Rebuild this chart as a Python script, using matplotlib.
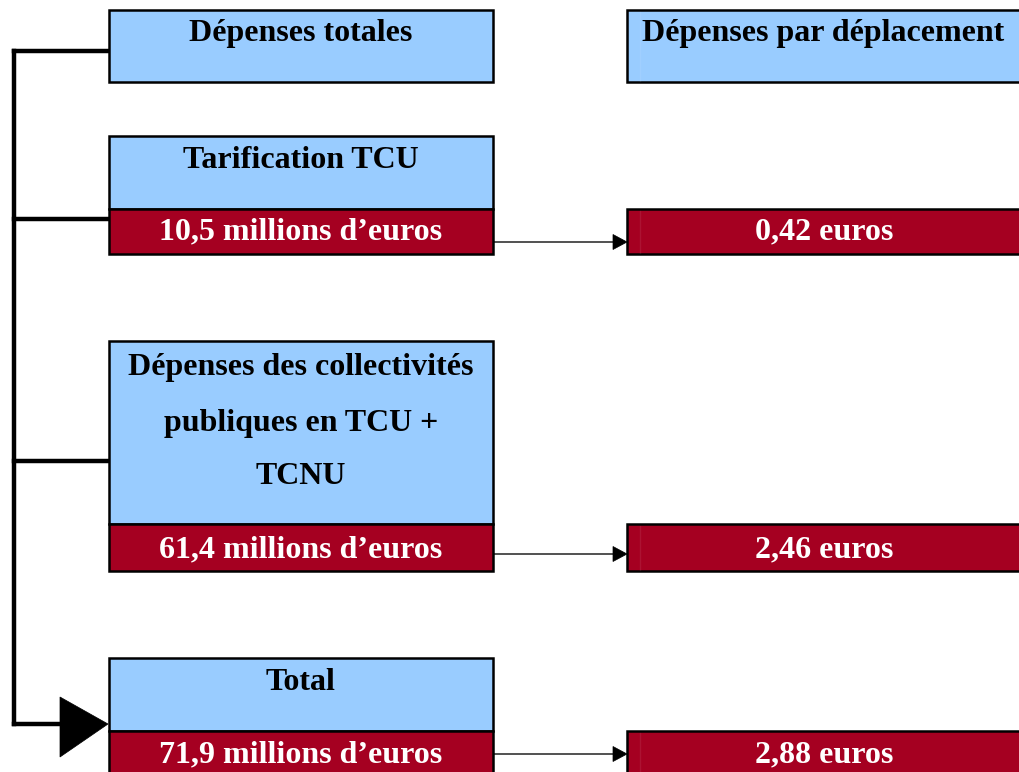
import matplotlib
matplotlib.use("Agg")
import matplotlib.pyplot as plt
from matplotlib.patches import Rectangle, Polygon

# ---- data ----
header_left = "Dépenses totales"
header_right = "Dépenses par déplacement"
categories = ["Tarification TCU",
              "Dépenses des collectivités\npubliques en TCU +\nTCNU",
              "Total"]
totals = ["10,5 millions d’euros", "61,4 millions d’euros", "71,9 millions d’euros"]
per_trip = ["0,42 euros", "2,46 euros", "2,88 euros"]

# ---- layout (pixel coordinates) ----
W, H = 1020, 772
BLUE = "#99CCFF"
RED = "#A50021"
FONT = ["Liberation Serif", "DejaVu Serif"]
FS = 23
DY = 3  # vertical text offset

fig = plt.figure(figsize=(W / 100, H / 100), dpi=100)
ax = fig.add_axes([0, 0, 1, 1])
ax.set_xlim(0, W)
ax.set_ylim(H, 0)
ax.axis("off")

LX0, LX1 = 109, 493
RX0, RX1 = 627, 1023

def box(x0, y0, x1, y1, color, inner=False):
    ax.add_patch(Rectangle((x0, y0), x1 - x0, y1 - y0, facecolor=color,
                           edgecolor="black", linewidth=1.8, zorder=2, clip_on=True))
    if inner:
        ax.plot([x0 + 13, x0 + 13], [y0 + 1.5, y1 - 1.5], color="white", alpha=0.08,
                linewidth=1, zorder=3)

# header boxes
box(LX0, 10, LX1, 82, BLUE)
ax.text((LX0 + LX1) / 2, 31 + DY, header_left, ha="center", va="center", fontsize=FS,
        fontweight="bold", family=FONT, zorder=4)
box(RX0, 10, RX1, 82, BLUE, inner=True)
ax.text(642, 31 + DY, header_right, ha="left", va="center", fontsize=FS,
        fontweight="bold", family=FONT, zorder=4)

# rows
rows = [
    dict(bt=136, rt=209, rb=254, ty=[157], by=219, ay=242, my=229),
    dict(bt=341, rt=524, rb=571, ty=[364, 420, 474], by=461, ay=554, my=547),
    dict(bt=658, rt=731, rb=776, ty=[679], by=724, ay=754, my=752),
]

for row, cat, tot, pt in zip(rows, categories, totals, per_trip):
    box(LX0, row["bt"], LX1, row["rt"], BLUE)
    for line, y in zip(cat.split("\n"), row["ty"]):
        ax.text((LX0 + LX1) / 2, y + DY, line, ha="center", va="center", fontsize=FS,
                fontweight="bold", family=FONT, zorder=4)
    box(LX0, row["rt"], LX1, row["rb"], RED)
    ax.text((LX0 + LX1) / 2, row["my"] + DY, tot, ha="center", va="center", fontsize=FS,
            fontweight="bold", family=FONT, color="white", zorder=4)
    box(RX0, row["rt"], RX1, row["rb"], RED, inner=True)
    ax.text(824, row["my"] + DY, pt, ha="center", va="center", fontsize=FS,
            fontweight="bold", family=FONT, color="white", zorder=4)
    ay = row["ay"]
    ax.plot([LX1, RX0 - 12], [ay, ay], color="#333333", linewidth=1.2, zorder=1)
    ax.add_patch(Polygon([[RX0 - 14, ay - 7.5], [RX0, ay], [RX0 - 14, ay + 7.5]],
                         closed=True, facecolor="black", edgecolor="black",
                         linewidth=0.5, zorder=1))

# left bracket
BX = 14.5
ax.plot([BX, BX], [51, 724], color="black", linewidth=3.2, solid_capstyle="projecting", zorder=1)
ax.plot([BX, LX0], [51, 51], color="black", linewidth=3.2, zorder=1)
for row in rows[:2]:
    ax.plot([BX, LX0], [row["by"], row["by"]], color="black", linewidth=3.2, zorder=1)
ax.plot([BX, 62], [724, 724], color="black", linewidth=3.2, zorder=1)
ax.add_patch(Polygon([[60, 697], [108, 724], [60, 757]], closed=True,
                     facecolor="black", edgecolor="black", linewidth=0.5, zorder=1))

fig.savefig("out.png", dpi=100)
